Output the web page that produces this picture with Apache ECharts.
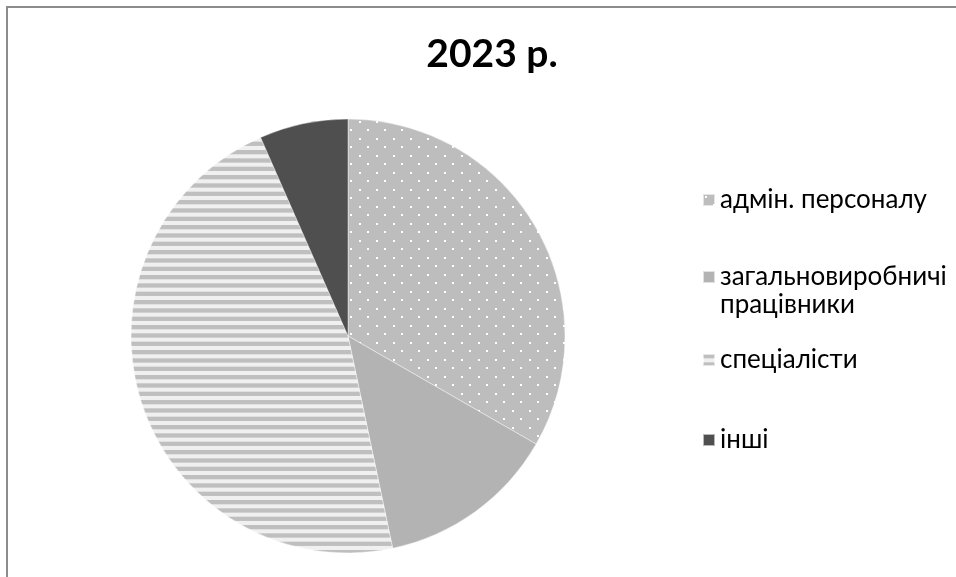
<!DOCTYPE html>
<html>
<head>
<meta charset="utf-8">
<script src="https://cdn.jsdelivr.net/npm/echarts@6/dist/echarts.min.js"></script>
<style>
  html, body { margin: 0; padding: 0; background: #fff; }
  #chart { width: 956px; height: 577px; }
</style>
</head>
<body>
<div id="chart"></div>
<script>
// Staff structure, 2023
const titleText = '2023 р.';
const categories = ['адмін. персоналу', 'загальновиробничі працівники', 'спеціалісти', 'інші'];
const shares = [33.3, 13.4, 46.7, 6.6];

// Fill patterns drawn on small canvases
function dotPattern() {
  const c = document.createElement('canvas');
  c.width = 17; c.height = 17;
  const g = c.getContext('2d');
  g.fillStyle = '#bdbdbd';
  g.fillRect(0, 0, 17, 17);
  g.fillStyle = '#ffffff';
  g.fillRect(2, 2, 2, 2);
  g.fillRect(10, 10, 2, 2);
  return c;
}
function stripePattern() {
  const c = document.createElement('canvas');
  c.width = 10; c.height = 25;
  const g = c.getContext('2d');
  g.fillStyle = '#f0f0f0';
  g.fillRect(0, 0, 10, 25);
  g.fillStyle = '#bfbfbf';
  for (let k = 0; k < 3; k++) g.fillRect(0, k * 25 / 3, 10, 4.3);
  return c;
}

const fills = [
  { image: dotPattern(), repeat: 'repeat' },
  '#b3b3b3',
  { image: stripePattern(), repeat: 'repeat' },
  '#4f4f4f'
];

const chart = echarts.init(document.getElementById('chart'), null, { renderer: 'canvas' });

// Legend entries are stacked by hand; the two-line entry keeps its marker on the first line
const legendTops = [186, 235, 346, 426];
const font = 'Lato, "Open Sans", sans-serif';

chart.setOption({
  backgroundColor: '#ffffff',
  animation: false,
  graphic: [{
    type: 'rect',
    shape: { x: 7, y: 7, width: 960, height: 600 },
    style: { fill: 'none', stroke: '#8c8c8c', lineWidth: 2 },
    silent: true
  }],
  title: {
    text: titleText,
    left: 487,
    textAlign: 'center',
    top: 30,
    textStyle: { fontFamily: font, fontWeight: 'bold', fontSize: 39, color: '#000' }
  },
  legend: categories.map((name, i) => ({
    data: [name],
    orient: 'vertical',
    left: 702,
    top: legendTops[i],
    padding: 0,
    icon: 'rect',
    itemWidth: 12,
    itemHeight: 12,
    itemGap: 0,
    selectedMode: false,
    formatter: n => (i === 1 ? '\n' + n.replace(' ', '\n') : n),
    textStyle: {
      fontFamily: font,
      fontSize: 26,
      color: '#000',
      lineHeight: 28
    }
  })),
  series: [{
    type: 'pie',
    center: [348, 336],
    radius: 217,
    startAngle: 90,
    clockwise: true,
    label: { show: false },
    labelLine: { show: false },
    emphasis: { disabled: true },
    itemStyle: { borderColor: 'rgba(255,255,255,0.6)', borderWidth: 0.7 },
    data: categories.map((name, i) => ({
      name,
      value: shares[i],
      itemStyle: { color: fills[i] }
    }))
  }]
});
</script>
</body>
</html>
